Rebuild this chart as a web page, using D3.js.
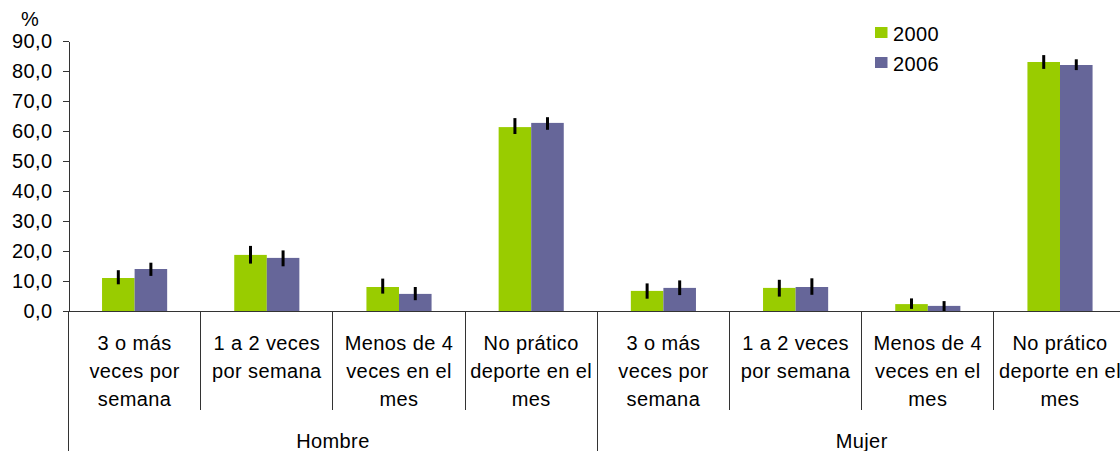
<!DOCTYPE html>
<html>
<head>
<meta charset="utf-8">
<script src="https://cdn.jsdelivr.net/npm/d3@7/dist/d3.min.js"></script>
<style>
  body { margin: 0; background: #fff; }
  svg text { font-family: "Liberation Sans", Arial, sans-serif; font-size: 20px; letter-spacing: 0.4px; fill: #000; }
</style>
</head>
<body>
<div id="container"></div>
<script>
const groups = ["Hombre", "Mujer"];
const categories = [
    ["3 o más", "veces por", "semana"],
    ["1 a 2 veces", "por semana"],
    ["Menos de 4", "veces en el", "mes"],
    ["No prático", "deporte en el", "mes"]
];
const years = ["2000", "2006"];
const values2000 = [11.0, 18.7, 8.0, 61.3, 6.7, 7.7, 2.3, 83.0];
const values2006 = [14.0, 17.7, 5.7, 62.7, 7.7, 8.0, 1.7, 82.0];
const low2000 = [8.9, 15.8, 5.8, 59.0, 4.1, 4.8, 0.7, 80.7];
const high2000 = [13.6, 21.7, 10.8, 64.3, 9.2, 10.4, 4.2, 85.3];
const low2006 = [11.7, 14.9, 3.6, 60.4, 5.3, 5.4, 0.0, 80.3];
const high2006 = [16.1, 20.2, 8.0, 64.6, 10.2, 10.9, 3.3, 83.9];
const yTicks = [0, 10, 20, 30, 40, 50, 60, 70, 80, 90];

const colors = { "2000": "#99cc00", "2006": "#666699" };

const width = 1120;
const height = 451;
const margin = { top: 41, left: 68.5, bottom: 311 };
const catWidth = 132.2;

// one entry per bar position: group + category
const slots = [];
groups.forEach((g, gi) => categories.forEach((c, ci) => slots.push({ key: g + ci, group: g, lines: c, index: gi * categories.length + ci })));

const series = [
    { year: "2000", values: values2000, low: low2000, high: high2000 },
    { year: "2006", values: values2006, low: low2006, high: high2006 }
];

const svg = d3.select("#container").append("svg")
    .attr("width", width)
    .attr("height", height);

const x0 = d3.scaleBand()
    .domain(slots.map(d => d.key))
    .range([margin.left, margin.left + catWidth * slots.length])
    .paddingInner(0)
    .paddingOuter(0);

const x1 = d3.scaleBand()
    .domain(years)
    .range([0, x0.bandwidth()])
    .paddingInner(0)
    .paddingOuter(1.03);

const y = d3.scaleLinear()
    .domain([0, 90])
    .range([margin.bottom, margin.top]);

// bars
series.forEach(s => {
    svg.append("g").selectAll("rect")
        .data(slots)
        .enter().append("rect")
        .attr("x", d => x0(d.key) + x1(s.year))
        .attr("width", x1.bandwidth())
        .attr("y", d => y(s.values[d.index]))
        .attr("height", d => y(0) - y(s.values[d.index]))
        .attr("fill", colors[s.year]);
});

// error bars
series.forEach(s => {
    svg.append("g").selectAll("line")
        .data(slots)
        .enter().append("line")
        .attr("x1", d => x0(d.key) + x1(s.year) + x1.bandwidth() / 2)
        .attr("x2", d => x0(d.key) + x1(s.year) + x1.bandwidth() / 2)
        .attr("y1", d => y(s.low[d.index]))
        .attr("y2", d => y(s.high[d.index]))
        .attr("stroke", "#000")
        .attr("stroke-width", 3);
});

// y axis
const fmt = v => d3.format(".1f")(v).replace(".", ",");
const yAxis = svg.append("g")
    .attr("transform", `translate(${margin.left},0)`)
    .call(d3.axisLeft(y).tickValues(yTicks).tickFormat(fmt).tickSize(6).tickSizeOuter(0).tickPadding(10));
yAxis.selectAll("path, line").attr("stroke", "#333").attr("shape-rendering", "crispEdges");
yAxis.selectAll("text").attr("font-size", null).attr("font-family", null).attr("fill", "#000");
yAxis.attr("font-size", null).attr("font-family", null);

svg.append("text")
    .attr("x", 30)
    .attr("y", 26)
    .attr("text-anchor", "middle")
    .text("%");

// x axis baseline
svg.append("line")
    .attr("x1", margin.left).attr("x2", width)
    .attr("y1", y(0)).attr("y2", y(0))
    .attr("stroke", "#333")
    .attr("shape-rendering", "crispEdges");

// category separators
const edges = d3.range(slots.length + 1).map(i => i === slots.length ? x0.range()[1] : x0(slots[i].key));
svg.append("g").selectAll("line")
    .data(edges)
    .enter().append("line")
    .attr("x1", d => d).attr("x2", d => d)
    .attr("y1", y(0))
    .attr("y2", (d, i) => i % categories.length === 0 ? height : 410)
    .attr("stroke", "#333")
    .attr("shape-rendering", "crispEdges");

// category labels
const lab = svg.append("g").selectAll("text")
    .data(slots)
    .enter().append("text")
    .attr("text-anchor", "middle")
    .attr("y", 350);
lab.selectAll("tspan")
    .data(d => d.lines.map(l => ({ l, cx: x0(d.key) + x0.bandwidth() / 2 })))
    .enter().append("tspan")
    .attr("x", d => d.cx)
    .attr("dy", (d, i) => i === 0 ? 0 : 28)
    .text(d => d.l);

// group labels
svg.append("g").selectAll("text")
    .data(groups)
    .enter().append("text")
    .attr("text-anchor", "middle")
    .attr("x", (g, gi) => {
        const a = edges[gi * categories.length];
        const b = edges[(gi + 1) * categories.length];
        return (a + b) / 2;
    })
    .attr("y", 448)
    .text(d => d);

// legend
const legend = svg.append("g").selectAll("g")
    .data(years)
    .enter().append("g")
    .attr("transform", (d, i) => `translate(875,${27 + i * 30})`);
legend.append("rect")
    .attr("width", 12.5)
    .attr("height", 11)
    .attr("fill", d => colors[d]);
legend.append("text")
    .attr("x", 18)
    .attr("y", 14)
    .text(d => d);
</script>
</body>
</html>
